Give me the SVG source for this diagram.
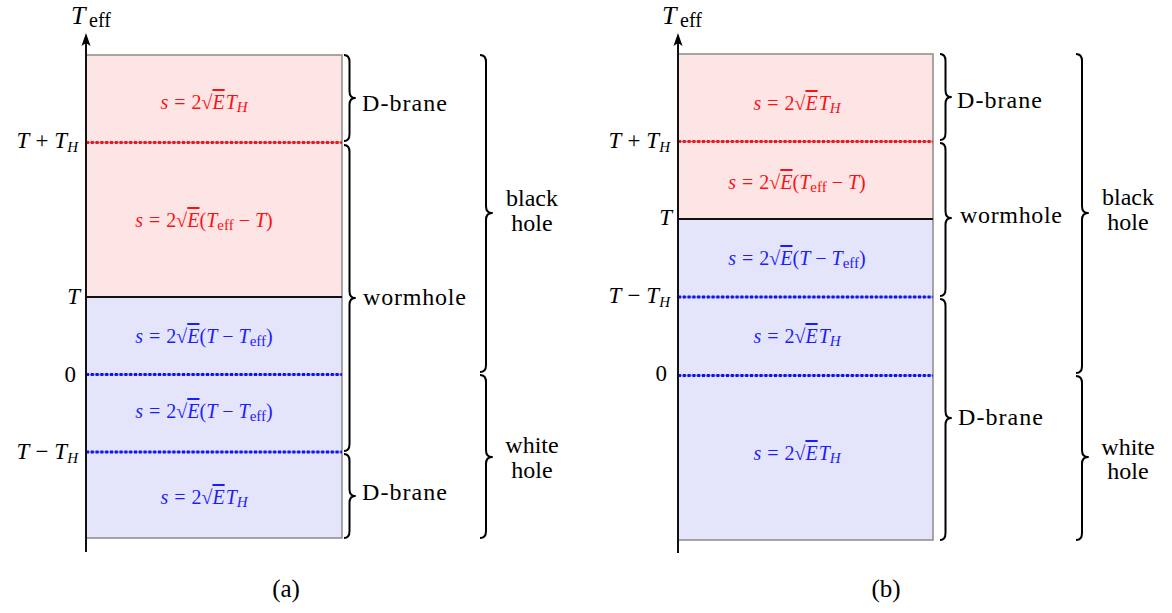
<svg xmlns="http://www.w3.org/2000/svg" width="1172" height="613" viewBox="0 0 1172 613">
<style>
text{font-family:"Liberation Serif","DejaVu Serif",serif;fill:#000}
.lbl{font-size:24px}
.ax{font-size:23px}
.m{font-size:20px}
.i{font-style:italic}
.sub{font-size:15px}
.red{fill:#ff1010}
.blue{fill:#1c1cff}
.ov{text-decoration:overline}
.pink{fill:#fde4e5}
.lav{fill:#e4e4fa}
.frame{fill:none;stroke:#8a8a8a;stroke-width:1.5}
.axis{stroke:#111;stroke-width:2;fill:none;marker-end:url(#arr)}
.base{stroke:#8090b8;stroke-width:1.4}
.dr{stroke:#ff1010;stroke-width:3;stroke-dasharray:3 1.8}
.db{stroke:#1010ff;stroke-width:3;stroke-dasharray:3 1.8}
.solid{stroke:#111;stroke-width:2}
.brace{fill:none;stroke:#000;stroke-width:2;stroke-linejoin:round}
</style>
<defs>
<marker id="arr" viewBox="0 0 14 10" refX="7" refY="5" markerWidth="14" markerHeight="10" markerUnits="userSpaceOnUse" orient="auto">
<path d="M13,5 L0,0.5 L3,5 L0,9.5 z" fill="#000"/>
</marker>
</defs>

<!-- Panel (a) -->
<g id="panel-a">
<rect class="pink" x="86" y="55" width="256" height="242"/>
<rect class="lav" x="86" y="297" width="256" height="241"/>
<rect class="frame" x="86" y="55" width="256" height="483"/>
<line class="base" x1="86" y1="142.5" x2="342" y2="142.5"/>
<line class="dr" x1="86" y1="142.5" x2="342" y2="142.5"/>
<line class="solid" x1="86" y1="297" x2="342" y2="297"/>
<line class="base" x1="86" y1="374.5" x2="342" y2="374.5"/>
<line class="db" x1="86" y1="374.5" x2="342" y2="374.5"/>
<line class="base" x1="86" y1="452" x2="342" y2="452"/>
<line class="db" x1="86" y1="452" x2="342" y2="452"/>
<line class="axis" x1="86" y1="552" x2="86" y2="39"/>
<text x="71" y="24" font-size="26" class="i">T</text>
<text x="89" y="27" font-size="20">eff</text>
<text class="ax" x="78" y="148" text-anchor="end"><tspan class="i">T</tspan><tspan dx="6">+</tspan><tspan class="i" dx="6">T</tspan><tspan class="sub i" dy="4">H</tspan></text>
<text class="ax i" x="80" y="304" text-anchor="end">T</text>
<text class="ax" x="76" y="382" text-anchor="end">0</text>
<text class="ax" x="78" y="459" text-anchor="end"><tspan class="i">T</tspan><tspan dx="6">−</tspan><tspan class="i" dx="6">T</tspan><tspan class="sub i" dy="4">H</tspan></text>
</g>
<g id="region-a1"><text class="m red" x="204" y="109" text-anchor="middle"><tspan class="i">s</tspan><tspan dx="6">=</tspan><tspan dx="6">2√</tspan><tspan class="i ov">E</tspan><tspan class="i" dx="1">T</tspan><tspan class="sub i" dy="3">H</tspan></text></g>
<g id="region-a2"><text class="m red" x="204" y="227" text-anchor="middle"><tspan class="i">s</tspan><tspan dx="6">=</tspan><tspan dx="6">2√</tspan><tspan class="i ov">E</tspan>(<tspan class="i">T</tspan><tspan class="sub" dy="3">eff</tspan><tspan dy="-3" dx="5">−</tspan><tspan class="i" dx="5">T</tspan>)</text></g>
<g id="region-a3"><text class="m blue" x="204" y="343" text-anchor="middle"><tspan class="i">s</tspan><tspan dx="6">=</tspan><tspan dx="6">2√</tspan><tspan class="i ov">E</tspan>(<tspan class="i">T</tspan><tspan dx="5">−</tspan><tspan class="i" dx="5">T</tspan><tspan class="sub" dy="3">eff</tspan><tspan dy="-3">)</tspan></text></g>
<g id="region-a4"><text class="m blue" x="204" y="418" text-anchor="middle"><tspan class="i">s</tspan><tspan dx="6">=</tspan><tspan dx="6">2√</tspan><tspan class="i ov">E</tspan>(<tspan class="i">T</tspan><tspan dx="5">−</tspan><tspan class="i" dx="5">T</tspan><tspan class="sub" dy="3">eff</tspan><tspan dy="-3">)</tspan></text></g>
<g id="region-a5"><text class="m blue" x="204" y="504" text-anchor="middle"><tspan class="i">s</tspan><tspan dx="6">=</tspan><tspan dx="6">2√</tspan><tspan class="i ov">E</tspan><tspan class="i" dx="1">T</tspan><tspan class="sub i" dy="3">H</tspan></text></g>
<g id="brace-a-dbrane-top"><path class="brace" d="M344,55 Q349.5,55 349.5,62 V91 Q349.5,98 355,98 Q349.5,98 349.5,105 V134 Q349.5,141 344,141"/><text class="lbl" x="362" y="111" textLength="85" lengthAdjust="spacing">D-brane</text></g>
<g id="brace-a-wormhole"><path class="brace" d="M344,145 Q349.5,145 349.5,152 V291 Q349.5,298 355,298 Q349.5,298 349.5,305 V444 Q349.5,451 344,451"/><text class="lbl" x="363" y="305" textLength="103" lengthAdjust="spacing">wormhole</text></g>
<g id="brace-a-dbrane-bottom"><path class="brace" d="M344,454 Q349.5,454 349.5,461 V489 Q349.5,496 355,496 Q349.5,496 349.5,503 V531 Q349.5,538 344,538"/><text class="lbl" x="362" y="500" textLength="85" lengthAdjust="spacing">D-brane</text></g>
<g id="brace-a-blackhole"><path class="brace" d="M480,55 Q486,55 486,62 V206 Q486,213 492,213 Q486,213 486,220 V365 Q486,372 480,372"/><text class="lbl" x="532" y="206" text-anchor="middle">black</text><text class="lbl" x="532" y="231" text-anchor="middle">hole</text></g>
<g id="brace-a-whitehole"><path class="brace" d="M480,375 Q486,375 486,382 V450 Q486,457 492,457 Q486,457 486,464 V531 Q486,538 480,538"/><text class="lbl" x="532" y="453" text-anchor="middle">white</text><text class="lbl" x="532" y="478" text-anchor="middle">hole</text></g>
<text id="caption-a" x="286" y="597" font-size="25" text-anchor="middle">(a)</text>

<!-- Panel (b) -->
<g id="panel-b">
<rect class="pink" x="678" y="54" width="255" height="165"/>
<rect class="lav" x="678" y="219" width="255" height="321"/>
<rect class="frame" x="678" y="54" width="255" height="486"/>
<line class="base" x1="678" y1="141.5" x2="933" y2="141.5"/>
<line class="dr" x1="678" y1="141.5" x2="933" y2="141.5"/>
<line class="solid" x1="678" y1="219" x2="933" y2="219"/>
<line class="base" x1="678" y1="297" x2="933" y2="297"/>
<line class="db" x1="678" y1="297" x2="933" y2="297"/>
<line class="base" x1="678" y1="375.5" x2="933" y2="375.5"/>
<line class="db" x1="678" y1="375.5" x2="933" y2="375.5"/>
<line class="axis" x1="678" y1="553" x2="678" y2="39"/>
<text x="662" y="24" font-size="26" class="i">T</text>
<text x="680" y="27" font-size="20">eff</text>
<text class="ax" x="670" y="148" text-anchor="end"><tspan class="i">T</tspan><tspan dx="6">+</tspan><tspan class="i" dx="6">T</tspan><tspan class="sub i" dy="4">H</tspan></text>
<text class="ax i" x="672" y="225" text-anchor="end">T</text>
<text class="ax" x="670" y="303" text-anchor="end"><tspan class="i">T</tspan><tspan dx="6">−</tspan><tspan class="i" dx="6">T</tspan><tspan class="sub i" dy="4">H</tspan></text>
<text class="ax" x="667" y="381" text-anchor="end">0</text>
</g>
<g id="region-b1"><text class="m red" x="797" y="110" text-anchor="middle"><tspan class="i">s</tspan><tspan dx="6">=</tspan><tspan dx="6">2√</tspan><tspan class="i ov">E</tspan><tspan class="i" dx="1">T</tspan><tspan class="sub i" dy="3">H</tspan></text></g>
<g id="region-b2"><text class="m red" x="797" y="189" text-anchor="middle"><tspan class="i">s</tspan><tspan dx="6">=</tspan><tspan dx="6">2√</tspan><tspan class="i ov">E</tspan>(<tspan class="i">T</tspan><tspan class="sub" dy="3">eff</tspan><tspan dy="-3" dx="5">−</tspan><tspan class="i" dx="5">T</tspan>)</text></g>
<g id="region-b3"><text class="m blue" x="797" y="265" text-anchor="middle"><tspan class="i">s</tspan><tspan dx="6">=</tspan><tspan dx="6">2√</tspan><tspan class="i ov">E</tspan>(<tspan class="i">T</tspan><tspan dx="5">−</tspan><tspan class="i" dx="5">T</tspan><tspan class="sub" dy="3">eff</tspan><tspan dy="-3">)</tspan></text></g>
<g id="region-b4"><text class="m blue" x="797" y="343" text-anchor="middle"><tspan class="i">s</tspan><tspan dx="6">=</tspan><tspan dx="6">2√</tspan><tspan class="i ov">E</tspan><tspan class="i" dx="1">T</tspan><tspan class="sub i" dy="3">H</tspan></text></g>
<g id="region-b5"><text class="m blue" x="797" y="460" text-anchor="middle"><tspan class="i">s</tspan><tspan dx="6">=</tspan><tspan dx="6">2√</tspan><tspan class="i ov">E</tspan><tspan class="i" dx="1">T</tspan><tspan class="sub i" dy="3">H</tspan></text></g>
<g id="brace-b-dbrane-top"><path class="brace" d="M940,54 Q945.5,54 945.5,61 V90 Q945.5,97 951,97 Q945.5,97 945.5,104 V133 Q945.5,140 940,140"/><text class="lbl" x="957" y="108" textLength="85" lengthAdjust="spacing">D-brane</text></g>
<g id="brace-b-wormhole"><path class="brace" d="M940,143 Q945.5,143 945.5,150 V211 Q945.5,218 951,218 Q945.5,218 945.5,225 V289 Q945.5,296 940,296"/><text class="lbl" x="960" y="223" textLength="102" lengthAdjust="spacing">wormhole</text></g>
<g id="brace-b-dbrane-bottom"><path class="brace" d="M940,299 Q945.5,299 945.5,306 V411 Q945.5,418 951,418 Q945.5,418 945.5,425 V533 Q945.5,540 940,540"/><text class="lbl" x="958" y="425" textLength="85" lengthAdjust="spacing">D-brane</text></g>
<g id="brace-b-blackhole"><path class="brace" d="M1076,54 Q1082,54 1082,61 V206 Q1082,213 1088,213 Q1082,213 1082,220 V366 Q1082,373 1076,373"/><text class="lbl" x="1128" y="205" text-anchor="middle">black</text><text class="lbl" x="1128" y="230" text-anchor="middle">hole</text></g>
<g id="brace-b-whitehole"><path class="brace" d="M1076,376 Q1082,376 1082,383 V450 Q1082,457 1088,457 Q1082,457 1082,464 V533 Q1082,540 1076,540"/><text class="lbl" x="1128" y="455" text-anchor="middle">white</text><text class="lbl" x="1128" y="479" text-anchor="middle">hole</text></g>
<text id="caption-b" x="886" y="597" font-size="25" text-anchor="middle">(b)</text>
</svg>
